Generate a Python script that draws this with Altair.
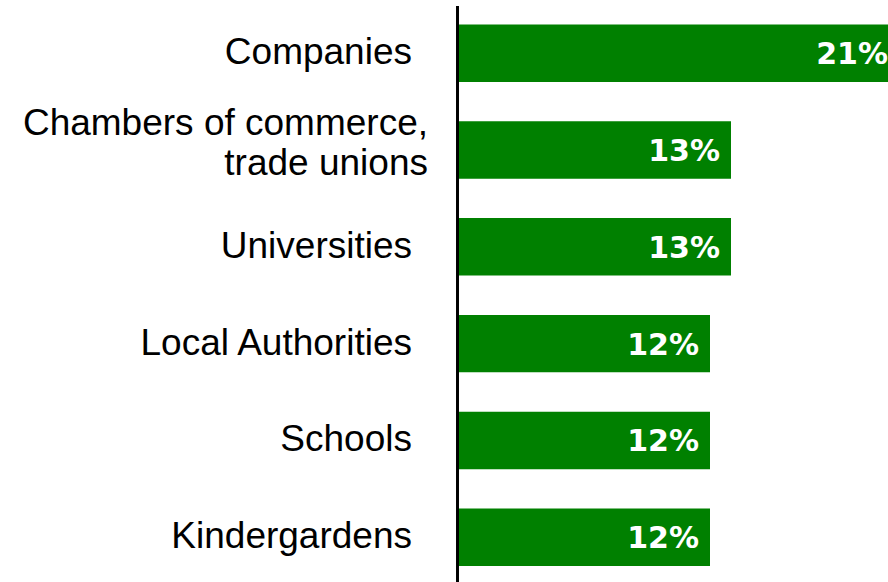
import altair as alt
import pandas as pd

# Share of respondents by type of partner institution
categories = [
    "Companies",
    "Chambers of commerce, trade unions",
    "Universities",
    "Local Authorities",
    "Schools",
    "Kindergardens",
]
label_lines = [
    ["Companies"],
    ["Chambers of commerce,", "trade unions"],
    ["Universities"],
    ["Local Authorities"],
    ["Schools"],
    ["Kindergardens"],
]
shares = [21, 13, 13, 12, 12, 12]

df = pd.DataFrame({
    "category": categories,
    "lines": label_lines,
    "share": shares,
    "multiline": [len(l) > 1 for l in label_lines],
    "text": [f"{v}%" for v in shares],
})

GREEN = "#008000"
PLOT_W = 430
PX_PER_PCT = 21.0

y_scale = alt.Scale(
    domain=categories,
    paddingInner=0.407,
    paddingOuter=0.178,
    align=0.536,
)
x_scale = alt.Scale(domain=[0, PLOT_W / PX_PER_PCT], nice=False, zero=True)

y_enc = alt.Y("category:N", scale=y_scale, sort=categories, axis=None)

bars = alt.Chart(df).mark_bar(color=GREEN).encode(
    x=alt.X("share:Q", scale=x_scale, axis=None),
    y=y_enc,
)

values = alt.Chart(df).mark_text(
    align="right", baseline="middle", dx=-11, dy=2,
    font="DejaVu Sans", fontWeight="bold", fontSize=30, color="white",
).encode(
    x=alt.X("share:Q", scale=x_scale, axis=None),
    y=y_enc,
    text="text:N",
)

label_style = dict(
    align="right", baseline="middle", font="Liberation Sans",
    fontSize=37, color="black", lineHeight=40,
)

single_labels = alt.Chart(df).transform_filter(
    "!datum.multiline"
).mark_text(**label_style).encode(
    x=alt.value(-46),
    y=y_enc,
    text="lines",
)

multi_labels = alt.Chart(df).transform_filter(
    "datum.multiline"
).mark_text(dy=-26, **label_style).encode(
    x=alt.value(-30),
    y=y_enc,
    text="lines",
)

# vertical baseline at the left edge of the bars
axis_line = alt.Chart(df).mark_rule(color="black", strokeWidth=2).encode(
    x=alt.value(-0.5),
    y=alt.value(0),
    y2=alt.value(600),
)

chart = alt.layer(bars, values, single_labels, multi_labels, axis_line).properties(
    width=PLOT_W,
    height=576,
    autosize=alt.AutoSizeParams(type="none"),
    padding={"left": 458, "top": 6, "right": 0, "bottom": 0},
).configure_view(stroke=None)

chart.save("out.html", embed_options={"renderer": "svg", "actions": False})
